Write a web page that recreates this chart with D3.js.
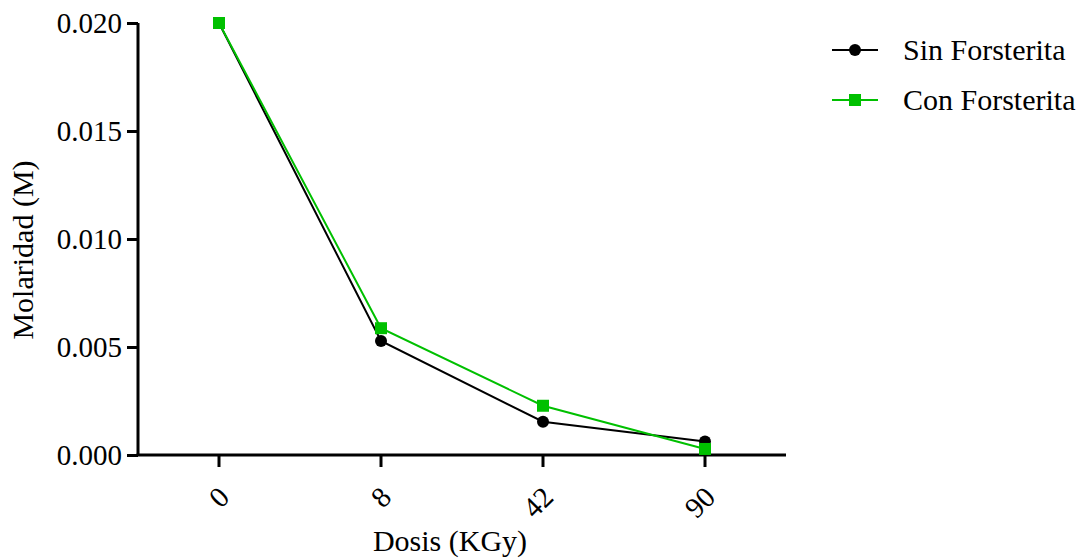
<!DOCTYPE html>
<html><head><meta charset="utf-8">
<script src="https://cdn.jsdelivr.net/npm/d3@7"></script>
<style>body{margin:0;background:#fff}svg{display:block}text{font-family:"Liberation Serif","Times New Roman",serif;fill:#000}</style>
</head><body>
<svg id="c" width="1084" height="560"></svg>
<script>
const categories = ["0", "8", "42", "90"];
const sinForsterita = [0.0200, 0.00528, 0.00154, 0.00062];
const conForsterita = [0.0200, 0.00587, 0.00228, 0.00028];
const yTicks = [0.000, 0.005, 0.010, 0.015, 0.020];
const seriesNames = ["Sin Forsterita", "Con Forsterita"];

const svg = d3.select("#c");
const m = {left: 138, right: 786, top: 23, bottom: 455};
const x = d3.scaleBand().domain(categories).range([m.left, m.right]);
const y = d3.scaleLinear().domain([0, 0.020]).range([m.bottom, m.top]);
const fsTick = 29, fs = 30;

// Y axis
const ya = svg.append("g").attr("transform", `translate(${m.left},0)`)
  .call(d3.axisLeft(y).tickValues(yTicks).tickFormat(d3.format(".3f")).tickSize(11).tickPadding(5));
ya.select(".domain").attr("stroke", "#000").attr("stroke-width", 3).attr("d", `M0,${m.top}V${m.bottom}`);
ya.selectAll(".tick line").attr("stroke-width", 3);
ya.selectAll(".tick text").style("font-family", '"Liberation Serif", serif').style("font-size", fsTick + "px").attr("fill", "#000");

// X axis
const xa = svg.append("g").attr("transform", `translate(0,${m.bottom})`)
  .call(d3.axisBottom(x).tickSize(12).tickSizeOuter(0));
xa.select(".domain").attr("stroke", "#000").attr("stroke-width", 3).attr("d", `M${m.left - 1.5},0H${m.right}`);
xa.selectAll(".tick line").attr("stroke-width", 3);
xa.selectAll(".tick text")
  .style("font-family", '"Liberation Serif", serif').style("font-size", fsTick + "px").attr("fill", "#000")
  .attr("text-anchor", "end").attr("dy", null).attr("y", null)
  .attr("transform", "translate(12,44) rotate(-45)");

// Axis titles
svg.append("text").attr("x", 450).attr("y", 551).attr("text-anchor", "middle")
  .style("font-size", fs + "px").text("Dosis (KGy)");
svg.append("text").attr("transform", `translate(33,250) rotate(-90)`).attr("text-anchor", "middle")
  .style("font-size", fs + "px").text("Molaridad (M)");

const cx = d => x(d) + x.bandwidth() / 2;
const series = [
  {name: seriesNames[0], values: sinForsterita, color: "#000", shape: "circle"},
  {name: seriesNames[1], values: conForsterita, color: "#00c000", shape: "square"}
];
const line = d3.line().x((d, i) => cx(categories[i])).y(d => y(d));

function marker(g, shape, color, px, py) {
  if (shape === "circle") g.append("circle").attr("cx", px).attr("cy", py).attr("r", 6).attr("fill", color);
  else g.append("rect").attr("x", px - 6).attr("y", py - 6).attr("width", 12).attr("height", 12).attr("fill", color);
}

series.forEach(s => {
  const g = svg.append("g");
  g.append("path").datum(s.values).attr("d", line).attr("fill", "none").attr("stroke", s.color).attr("stroke-width", 2);
  s.values.forEach((v, i) => marker(g, s.shape, s.color, cx(categories[i]), y(v)));
});

// Legend
series.forEach((s, i) => {
  const ly = 50 + i * 50;
  const g = svg.append("g");
  g.append("line").attr("x1", 832).attr("x2", 878).attr("y1", ly).attr("y2", ly).attr("stroke", s.color).attr("stroke-width", 2);
  marker(g, s.shape, s.color, 855, ly);
  g.append("text").attr("x", 903).attr("y", ly + 10).style("font-size", fs + "px").text(s.name);
});
</script>
</body></html>
